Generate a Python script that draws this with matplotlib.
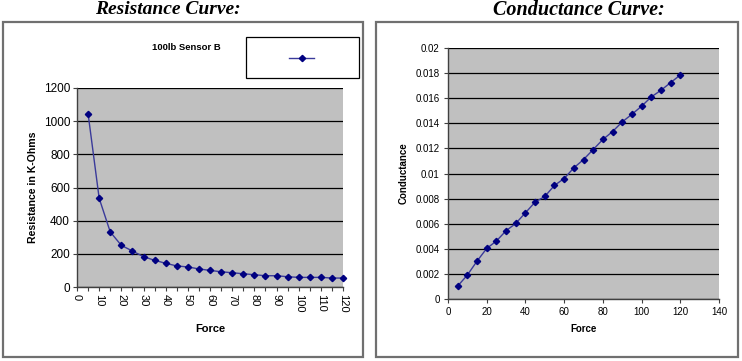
import matplotlib
matplotlib.use("Agg")
import matplotlib.pyplot as plt
from matplotlib.patches import Rectangle
from matplotlib.lines import Line2D
from matplotlib.ticker import MultipleLocator

force = [5, 10, 15, 20, 25, 30, 35, 40, 45, 50, 55, 60, 65, 70, 75, 80,
         85, 90, 95, 100, 105, 110, 115, 120]
resistance = [1045, 535, 332, 251, 217, 183, 161, 143, 127, 121, 109, 100,
              92, 86, 80, 74, 68, 68, 62, 58, 58, 58, 54, 54]
conductance = [0.00103, 0.00191, 0.00302, 0.00403, 0.00462, 0.00544, 0.00602,
               0.00687, 0.00772, 0.00817, 0.00905, 0.0096, 0.01045, 0.01111,
               0.01191, 0.01271, 0.01334, 0.01411, 0.01472, 0.01536, 0.0161,
               0.01663, 0.01724, 0.01785]

W, H = 742, 361
fig = plt.figure(figsize=(W / 100, H / 100), dpi=100)
fig.patch.set_facecolor("white")
plt.rcParams['font.family'] = ['Liberation Sans', 'DejaVu Sans']

def fx(px):
    return px / W

def fy(py):
    return 1 - py / H

# frames
for x0, x1 in [(3, 363), (376, 738)]:
    fig.patches.append(Rectangle((fx(x0), fy(357)), fx(x1 - x0), (357 - 22) / H,
                                 transform=fig.transFigure, fill=False,
                                 edgecolor="#707070", linewidth=1.6))

# titles
fig.text(fx(168), fy(10), "Resistance Curve:", family="Liberation Serif",
         fontweight="bold", style="italic", fontsize=14, ha="center", va="center")
fig.text(fx(579), fy(10), "Conductance Curve:", family="Liberation Serif",
         fontweight="bold", style="italic", fontsize=14.5, ha="center", va="center")

line_col = "#3a3a9a"
mk_col = "#000080"
msize = 3.2

def style_ax(ax):
    ax.set_facecolor("#c0c0c0")
    for s in ["top", "right"]:
        ax.spines[s].set_visible(False)
    for s in ["left", "bottom"]:
        ax.spines[s].set_color("#404040")
        ax.spines[s].set_linewidth(1.0)
    ax.grid(axis="y", color="black", linewidth=0.9)
    ax.set_axisbelow(True)
    ax.tick_params(direction="out", length=3, width=0.8, color="#404040")

# left chart
ax1 = fig.add_axes([fx(77), fy(287), fx(343 - 77), (287 - 88) / H])
style_ax(ax1)
ax1.plot(force, resistance, color=line_col, linewidth=1.0, marker="D",
         markersize=msize, markerfacecolor=mk_col, markeredgecolor=mk_col, clip_on=False)
ax1.set_xlim(0, 120)
ax1.set_ylim(0, 1200)
ax1.xaxis.set_major_locator(MultipleLocator(10))
ax1.xaxis.set_minor_locator(MultipleLocator(5))
ax1.yaxis.set_major_locator(MultipleLocator(200))
ax1.tick_params(axis="x", which="minor", direction="out", length=3, width=0.8, color="#404040")
ax1.tick_params(axis="x", labelrotation=-90, labelsize=8, pad=2)
ax1.tick_params(axis="y", labelsize=8.5, pad=2)
ax1.set_xlabel("Force", fontsize=8, fontweight="bold", labelpad=8)
ax1.set_ylabel("Resistance in K-Ohms", fontsize=7.6, fontweight="bold", labelpad=4)

# legend
fig.patches.append(Rectangle((fx(246), fy(78)), fx(113), 41 / H,
                             transform=fig.transFigure, fill=False,
                             edgecolor="black", linewidth=0.9))
fig.lines.append(Line2D([fx(289), fx(314)], [fy(58), fy(58)], transform=fig.transFigure,
                        color=line_col, linewidth=1.0))
fig.lines.append(Line2D([fx(301.5)], [fy(58)], transform=fig.transFigure,
                        marker="D", markersize=msize, color=mk_col, linestyle="none"))
fig.text(fx(186), fy(48), "100lb Sensor B", fontsize=6.8, fontweight="bold",
         ha="center", va="center")

# right chart
ax2 = fig.add_axes([fx(448), fy(299), fx(719 - 448), (299 - 48) / H])
style_ax(ax2)
ax2.plot(force, conductance, color=line_col, linewidth=1.0, marker="D",
         markersize=msize, markerfacecolor=mk_col, markeredgecolor=mk_col, clip_on=False)
ax2.set_xlim(0, 140)
ax2.set_ylim(0, 0.02)
ax2.xaxis.set_major_locator(MultipleLocator(20))
ax2.set_yticks([i * 0.002 for i in range(11)])
ax2.set_yticklabels(["0", "0.002", "0.004", "0.006", "0.008", "0.01", "0.012",
                     "0.014", "0.016", "0.018", "0.02"])
ax2.tick_params(labelsize=7, pad=3)
ax2.set_xlabel("Force", fontsize=7, fontweight="bold", labelpad=5)
ax2.set_ylabel("Conductance", fontsize=7, fontweight="bold", labelpad=5)

fig.savefig("out.png", dpi=100)
